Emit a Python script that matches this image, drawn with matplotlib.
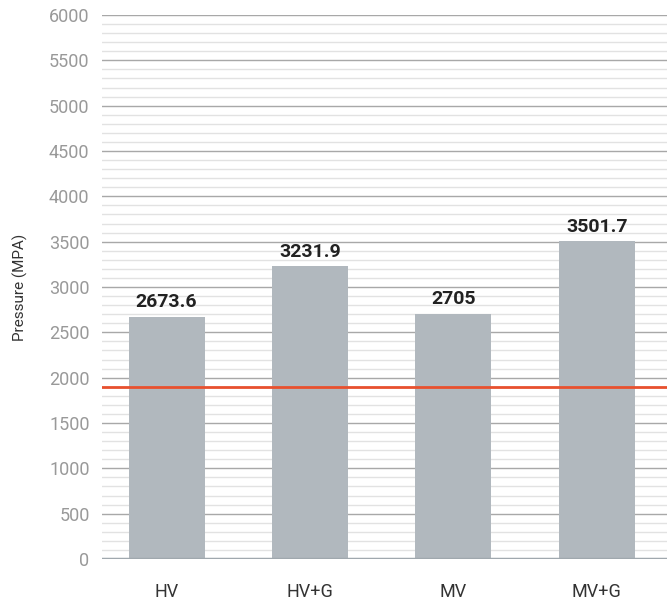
import matplotlib
matplotlib.use("Agg")
import matplotlib.pyplot as plt
from matplotlib.ticker import MultipleLocator

categories = ["HV", "HV+G", "MV", "MV+G"]
values = [2673.6, 3231.9, 2705, 3501.7]
labels = ["2673.6", "3231.9", "2705", "3501.7"]
reference_value = 1900
yticks = [0, 500, 1000, 1500, 2000, 2500, 3000, 3500, 4000, 4500, 5000, 5500, 6000]

plt.rcParams['font.family'] = ['Roboto', 'DejaVu Sans']

fig = plt.figure(figsize=(6.67, 6.06), dpi=100)
ax = fig.add_axes([0.153, 0.0776, 0.847, 0.8977])

x = list(range(len(categories)))
ax.yaxis.set_minor_locator(MultipleLocator(100))
ax.set_yticks(yticks)
ax.grid(which='major', axis='y', color='#a8a8a8', linewidth=1.0, zorder=0)
ax.grid(which='minor', axis='y', color='#e2e2e2', linewidth=1.0, zorder=0)
ax.set_axisbelow(True)

ax.bar(x, values, width=0.53, color='#b1b8be', zorder=2)
for xi, v, lab in zip(x, values, labels):
    ax.text(xi, v + 60, lab, ha='center', va='bottom', fontsize=14, fontweight='bold', color='#222222', zorder=3)

ax.axhline(reference_value, color='#e8502e', linewidth=2, zorder=4)
ax.axhline(0, color='#a0a8ae', linewidth=2.5, zorder=3)

ax.set_xlim(-0.45, 3.49)
ax.set_ylim(0, 6000)
ax.set_xticks(x)
ax.set_xticklabels(categories, fontsize=13, color='#333333')
ax.tick_params(axis='x', length=0, pad=17)
ax.tick_params(axis='y', which='both', length=0, pad=9, labelsize=13, labelcolor='#999999')
ax.set_ylabel("Pressure (MPA)", fontsize=11, color='#333333', labelpad=15)
for s in ax.spines.values():
    s.set_visible(False)

fig.savefig("out.png", dpi=100)
